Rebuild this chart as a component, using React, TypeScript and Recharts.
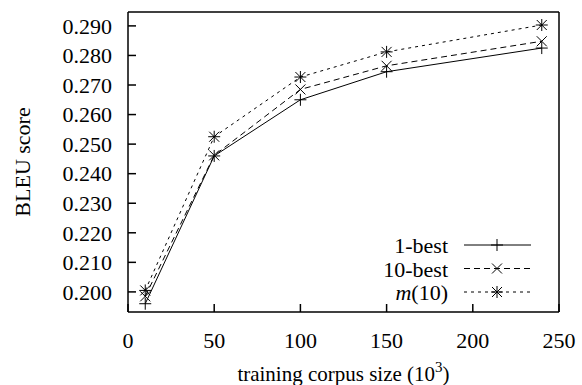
import React from "react"
import { LineChart, Line, XAxis, YAxis, Legend } from "recharts"

// training corpus size (10^3)
const corpusSizes = [10, 50, 100, 150, 240]
// BLEU scores per system
const oneBest = [0.196, 0.246, 0.265, 0.2745, 0.2825]
const tenBest = [0.1985, 0.2462, 0.2685, 0.2765, 0.2848]
const mTen = [0.2005, 0.2525, 0.2727, 0.2812, 0.2903]

const xTicks = [0, 50, 100, 150, 200, 250]
const yTicks = [0.2, 0.21, 0.22, 0.23, 0.24, 0.25, 0.26, 0.27, 0.28, 0.29]

const data = corpusSizes.map((size, i) => ({
  size,
  oneBest: oneBest[i],
  tenBest: tenBest[i],
  mTen: mTen[i],
}))

const FONT = "Liberation Serif"
const textStyle = { fontFamily: FONT, fontSize: 22 }
const labelStyle = { fontFamily: FONT, fontSize: 21 }
const tickStyle = { fontFamily: FONT, fontSize: 22, fill: "#000", style: textStyle }

function Plus({ cx, cy }: { cx: number; cy: number }) {
  return (
    <g stroke="#000" strokeWidth={1}>
      <line x1={cx - 6} y1={cy} x2={cx + 6} y2={cy} />
      <line x1={cx} y1={cy - 6} x2={cx} y2={cy + 6} />
    </g>
  )
}

function Cross({ cx, cy }: { cx: number; cy: number }) {
  return (
    <g stroke="#000" strokeWidth={1}>
      <line x1={cx - 5} y1={cy - 5} x2={cx + 5} y2={cy + 5} />
      <line x1={cx - 5} y1={cy + 5} x2={cx + 5} y2={cy - 5} />
    </g>
  )
}

function Star({ cx, cy }: { cx: number; cy: number }) {
  return (
    <g>
      <Plus cx={cx} cy={cy} />
      <Cross cx={cx} cy={cy} />
    </g>
  )
}

const markers: Record<string, (p: { cx: number; cy: number }) => React.ReactElement> = {
  oneBest: Plus,
  tenBest: Cross,
  mTen: Star,
}

function makeDot(name: string) {
  const M = markers[name]
  return (p: any) => (
    <g key={`${name}-${p.index}`}>
      <M cx={p.cx} cy={p.cy} />
    </g>
  )
}

const legendRows = [
  { key: "oneBest", dash: undefined, label: <tspan>1-best</tspan> },
  { key: "tenBest", dash: "6 4", label: <tspan>10-best</tspan> },
  {
    key: "mTen",
    dash: "3 4",
    label: (
      <>
        <tspan fontStyle="italic">m</tspan>
        <tspan>(10)</tspan>
      </>
    ),
  },
]

function LegendBox() {
  return (
    <svg width={230} height={80}>
      {legendRows.map((r, i) => {
        const y = 15 + i * 23.5
        const M = markers[r.key]
        return (
          <g key={r.key}>
            <text x={118} y={y} textAnchor="end" dominantBaseline="central" fill="#000" style={textStyle}>
              {r.label}
            </text>
            <line x1={134} y1={y} x2={201} y2={y} stroke="#000" strokeWidth={1} strokeDasharray={r.dash} />
            <M cx={167} cy={y} />
          </g>
        )
      })}
    </svg>
  )
}

function YLabel(props: any) {
  const { x, y, height } = props.viewBox
  const cx = x + 22
  const cy = y + height / 2
  return (
    <text
      x={cx}
      y={cy}
      transform={`rotate(-90 ${cx} ${cy})`}
      textAnchor="middle"
      dominantBaseline="central"
      fill="#000"
      style={textStyle}
    >
      BLEU score
    </text>
  )
}

function XLabel(props: any) {
  const { x, width } = props.viewBox
  return (
    <text x={x + width / 2} y={381} textAnchor="middle" fill="#000" style={labelStyle}>
      training corpus size (10
      <tspan dy={-9} style={{ fontSize: 15 }}>3</tspan>
      <tspan dy={9}>)</tspan>
    </text>
  )
}

const axisLine = { stroke: "#000", strokeWidth: 1.5 }
const tickLine = { stroke: "#000", strokeWidth: 1.5 }

export default function App() {
  return (
    <div style={{ position: "absolute", left: 0, top: 0, background: "#fff", fontFamily: FONT }}>
      <LineChart width={582} height={385} data={data} margin={{ top: 0, right: 0, bottom: 0, left: 0 }}>
        <XAxis
          xAxisId="b"
          dataKey="size"
          type="number"
          domain={[0, 250]}
          ticks={xTicks}
          interval={0}
          height={73}
          tickSize={-8}
          tickMargin={28}
          axisLine={axisLine}
          tickLine={tickLine}
          tick={tickStyle}
          label={{ content: XLabel }}
        />
        <XAxis
          xAxisId="t"
          orientation="top"
          dataKey="size"
          type="number"
          domain={[0, 250]}
          ticks={xTicks}
          interval={0}
          height={12}
          tickSize={-8}
          axisLine={axisLine}
          tickLine={tickLine}
          tick={false}
        />
        <YAxis
          yAxisId="l"
          type="number"
          domain={[0.1932, 0.2947]}
          ticks={yTicks}
          interval={0}
          width={128}
          tickSize={-8}
          tickMargin={24}
          axisLine={axisLine}
          tickLine={tickLine}
          tick={tickStyle}
          tickFormatter={(v: number) => v.toFixed(3)}
          label={{ content: YLabel }}
        />
        <YAxis
          yAxisId="r"
          orientation="right"
          type="number"
          domain={[0.1932, 0.2947]}
          ticks={yTicks}
          interval={0}
          width={23}
          tickSize={-8}
          axisLine={axisLine}
          tickLine={tickLine}
          tick={false}
        />
        <Legend
          layout="horizontal"
          verticalAlign="middle"
          align="center"
          content={() => <LegendBox />}
          wrapperStyle={{ position: "absolute", left: 330, top: 230, width: 230, height: 80 }}
        />
        <Line
          xAxisId="b"
          yAxisId="l"
          dataKey="oneBest"
          stroke="#000"
          strokeWidth={1}
          dot={makeDot("oneBest")}
          isAnimationActive={false}
        />
        <Line
          xAxisId="b"
          yAxisId="l"
          dataKey="tenBest"
          stroke="#000"
          strokeWidth={1}
          strokeDasharray="6 4"
          dot={makeDot("tenBest")}
          isAnimationActive={false}
        />
        <Line
          xAxisId="b"
          yAxisId="l"
          dataKey="mTen"
          stroke="#000"
          strokeWidth={1}
          strokeDasharray="3 4"
          dot={makeDot("mTen")}
          isAnimationActive={false}
        />
      </LineChart>
    </div>
  )
}
